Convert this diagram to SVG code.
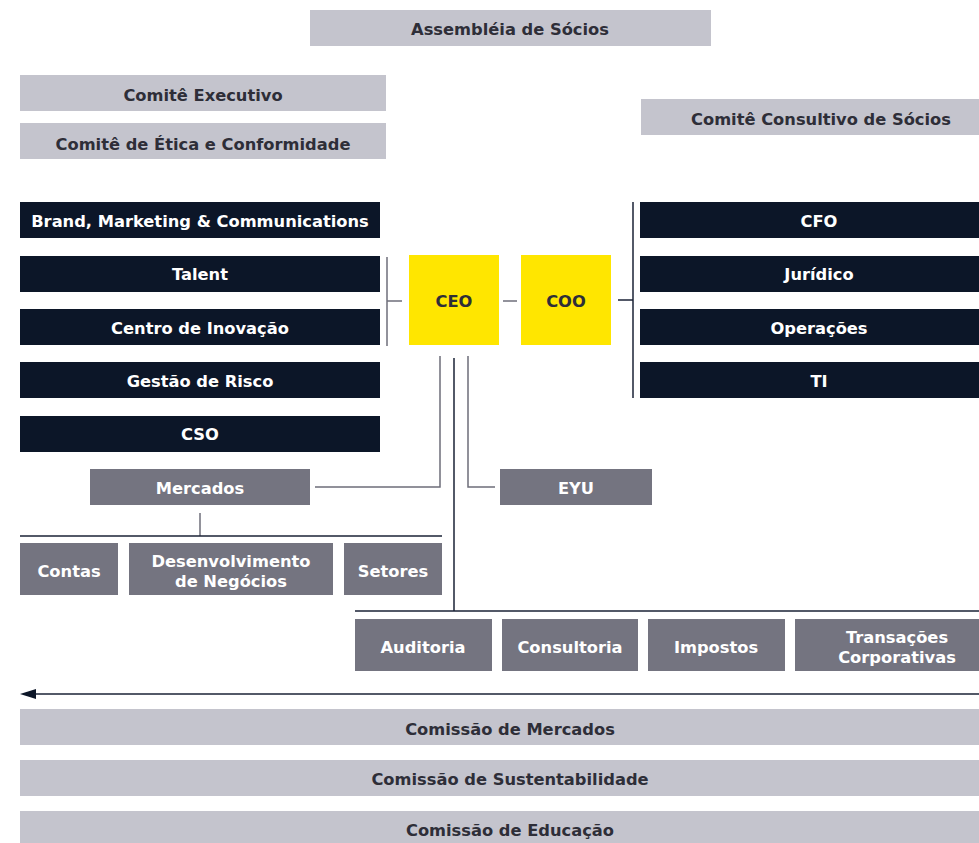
<svg xmlns="http://www.w3.org/2000/svg" width="979" height="843" viewBox="0 0 979 843">
<defs>
<style>
text{font-family:"DejaVu Sans","Liberation Sans",Arial,sans-serif;font-weight:bold;font-size:16.3px;text-anchor:middle}
.lg rect{fill:#C4C4CD}
.lg text{fill:#2E2E38}
.dk rect{fill:#0C1628}
.dk text{fill:#FFFFFF}
.md rect{fill:#747480}
.md text{fill:#FFFFFF}
.yl rect{fill:#FFE600}
.yl text{fill:#2E2E38}
.gl{stroke:#6E6E7A;stroke-width:1.5;fill:none}
.dl{stroke:#1A2236;stroke-width:1.5;fill:none}
</style>
<marker id="ah" markerWidth="16" markerHeight="10" refX="0" refY="5" orient="auto" markerUnits="userSpaceOnUse">
<path d="M16,5 L0,0 L0,10 Z" fill="#0C1628"/>
</marker>
</defs>
<rect width="979" height="843" fill="#FFFFFF"/>

<g id="connectors">
<line class="gl" x1="387" y1="257" x2="387" y2="346"/>
<line class="gl" x1="387" y1="301" x2="402" y2="301"/>
<line class="gl" x1="503" y1="301" x2="517" y2="301"/>
<line class="dl" x1="618" y1="300" x2="633" y2="300"/>
<line class="dl" x1="633" y1="202" x2="633" y2="398"/>
<polyline class="gl" points="440,356 440,487 315,487"/>
<polyline class="gl" points="468,356 468,487 495,487"/>
<line class="dl" x1="454" y1="358" x2="454" y2="611"/>
<line class="gl" x1="200" y1="513" x2="200" y2="536"/>
<line class="dl" x1="20" y1="536" x2="442" y2="536"/>
<line class="dl" x1="355" y1="611" x2="979" y2="611"/>
<line class="dl" x1="979" y1="694" x2="36" y2="694" marker-end="url(#ah)"/>
</g>

<g id="assembleia" class="lg"><rect x="310" y="10" width="401" height="36"/><text x="510" y="35">Assembléia de Sócios</text></g>
<g id="comite-executivo" class="lg"><rect x="20" y="75" width="366" height="36"/><text x="203" y="101">Comitê Executivo</text></g>
<g id="comite-etica" class="lg"><rect x="20" y="123" width="366" height="36"/><text x="203" y="150">Comitê de Ética e Conformidade</text></g>
<g id="comite-consultivo" class="lg"><rect x="641" y="99" width="338" height="36"/><text x="821" y="125">Comitê Consultivo de Sócios</text></g>

<g id="brand" class="dk"><rect x="20" y="202" width="360" height="36"/><text x="200" y="227">Brand, Marketing &amp; Communications</text></g>
<g id="talent" class="dk"><rect x="20" y="256" width="360" height="36"/><text x="200" y="280">Talent</text></g>
<g id="centro" class="dk"><rect x="20" y="309" width="360" height="36"/><text x="200" y="334">Centro de Inovação</text></g>
<g id="gestao" class="dk"><rect x="20" y="362" width="360" height="36"/><text x="200" y="387">Gestão de Risco</text></g>
<g id="cso" class="dk"><rect x="20" y="416" width="360" height="36"/><text x="200" y="440">CSO</text></g>

<g id="cfo" class="dk"><rect x="640" y="202" width="339" height="36"/><text x="819" y="227">CFO</text></g>
<g id="juridico" class="dk"><rect x="640" y="256" width="339" height="36"/><text x="819" y="280">Jurídico</text></g>
<g id="operacoes" class="dk"><rect x="640" y="309" width="339" height="36"/><text x="819" y="334">Operações</text></g>
<g id="ti" class="dk"><rect x="640" y="362" width="339" height="36"/><text x="819" y="387">TI</text></g>

<g id="ceo" class="yl"><rect x="409" y="255" width="90" height="90"/><text x="454" y="307">CEO</text></g>
<g id="coo" class="yl"><rect x="521" y="255" width="90" height="90"/><text x="566" y="307">COO</text></g>

<g id="mercados" class="md"><rect x="90" y="469" width="220" height="36"/><text x="200" y="494">Mercados</text></g>
<g id="eyu" class="md"><rect x="500" y="469" width="152" height="36"/><text x="576" y="494">EYU</text></g>

<g id="contas" class="md"><rect x="20" y="543" width="98" height="52"/><text x="69" y="577">Contas</text></g>
<g id="desenvolvimento" class="md"><rect x="129" y="543" width="204" height="52"/><text x="231" y="567">Desenvolvimento</text><text x="231" y="587">de Negócios</text></g>
<g id="setores" class="md"><rect x="344" y="543" width="98" height="52"/><text x="393" y="577">Setores</text></g>

<g id="auditoria" class="md"><rect x="355" y="619" width="137" height="52"/><text x="423" y="653">Auditoria</text></g>
<g id="consultoria" class="md"><rect x="502" y="619" width="136" height="52"/><text x="570" y="653">Consultoria</text></g>
<g id="impostos" class="md"><rect x="648" y="619" width="137" height="52"/><text x="716" y="653">Impostos</text></g>
<g id="transacoes" class="md"><rect x="795" y="619" width="184" height="52"/><text x="897" y="643">Transações</text><text x="897" y="663">Corporativas</text></g>

<g id="comissao-mercados" class="lg"><rect x="20" y="709" width="959" height="36"/><text x="510" y="735">Comissão de Mercados</text></g>
<g id="comissao-sustentabilidade" class="lg"><rect x="20" y="760" width="959" height="36"/><text x="510" y="785">Comissão de Sustentabilidade</text></g>
<g id="comissao-educacao" class="lg"><rect x="20" y="811" width="959" height="32"/><text x="510" y="836">Comissão de Educação</text></g>
</svg>
